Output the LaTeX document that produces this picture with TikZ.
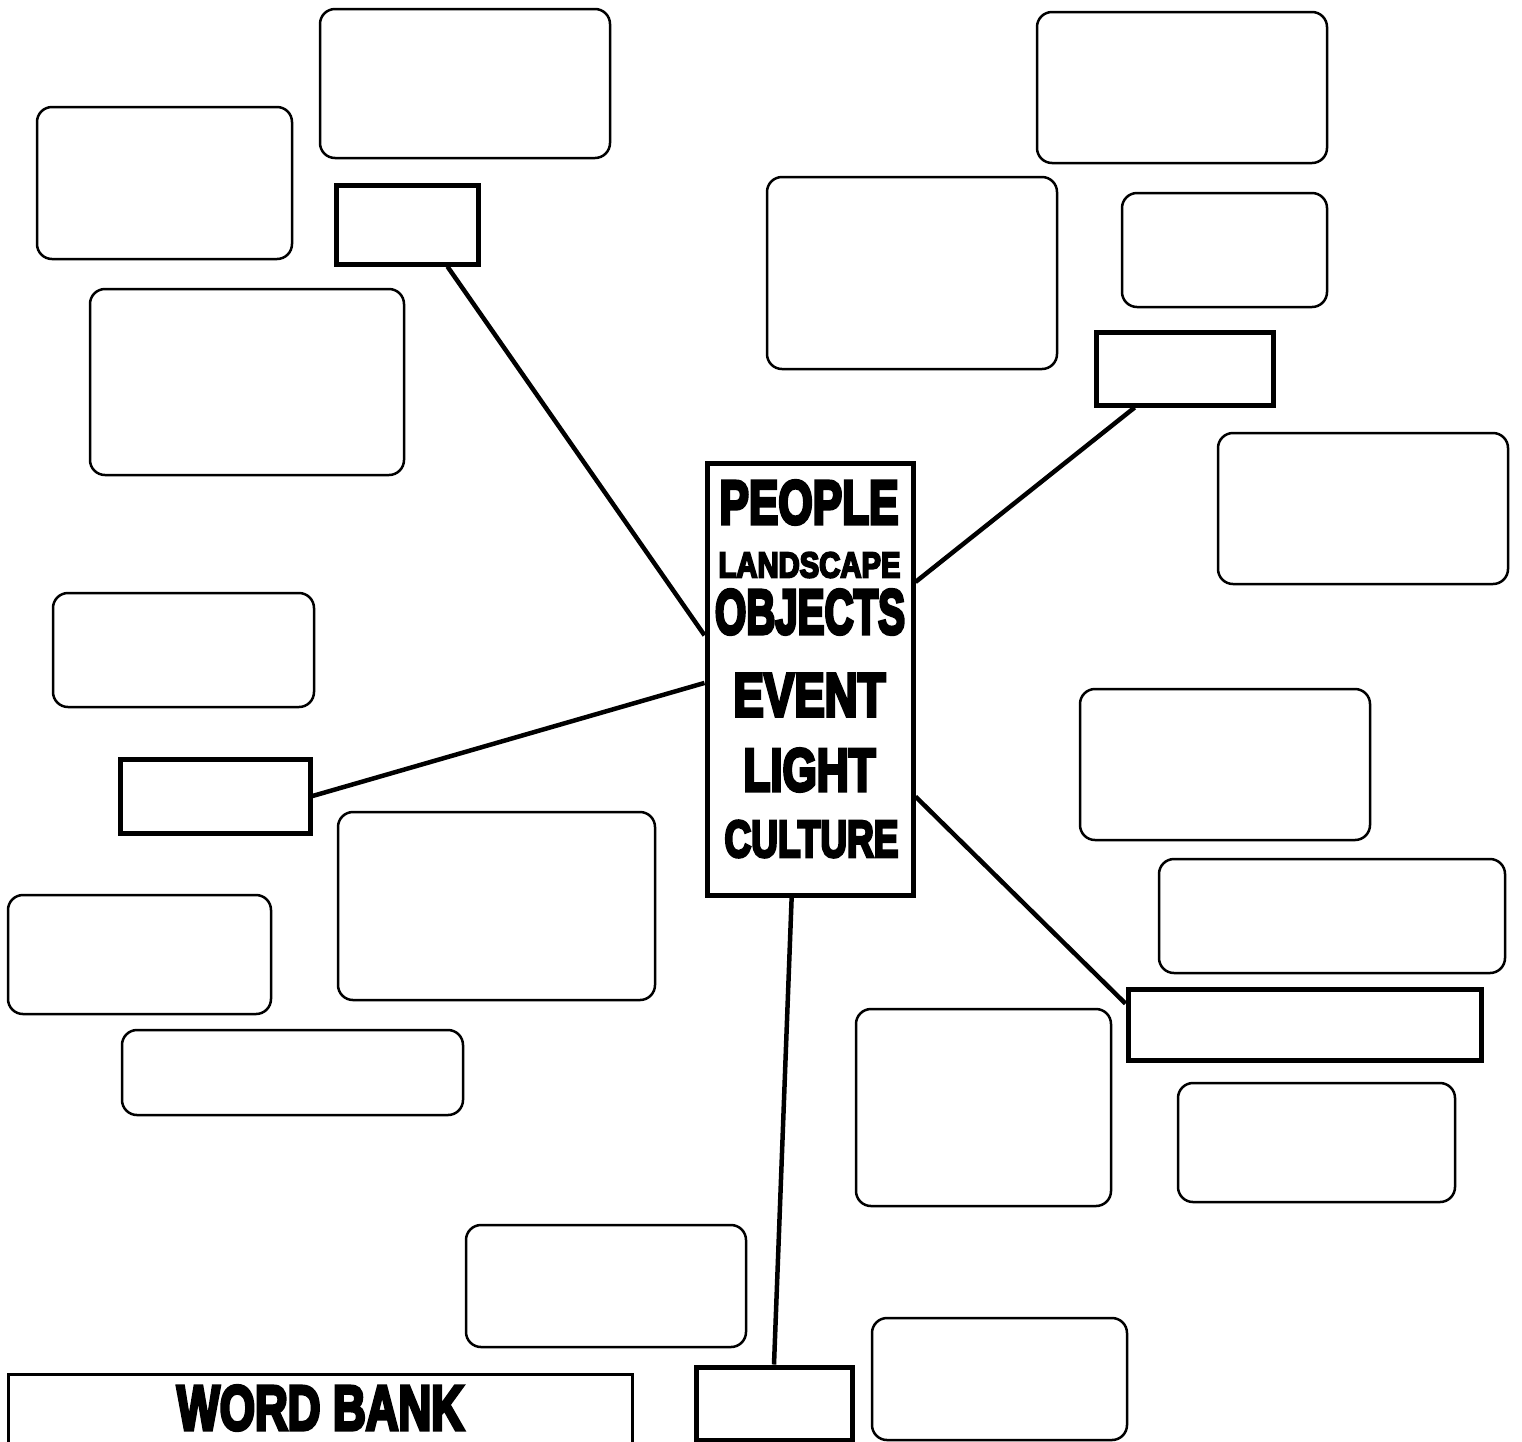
\documentclass[tikz,border=0pt]{standalone}
\usepackage{fontspec}
\setmainfont{Liberation Sans}[BoldFeatures={FakeBold=6}]
\usetikzlibrary{fit,calc}
\newcommand{\fitword}[3]{\resizebox{#1pt}{#2pt}{\bfseries #3}}
\tikzset{
  thinbox/.style={draw=black, line width=2.5pt, rounded corners=15pt, inner sep=0pt, fill=white},
  thickbox/.style={draw=black, line width=5pt, inner sep=0pt, fill=white},
  conn/.style={draw=black, line width=4.5pt},
  word/.style={inner sep=0pt, anchor=center}
}
\begin{document}
\begin{tikzpicture}[x=1pt,y=-1pt]
\useasboundingbox (0,0) rectangle (1522,1441);
\fill[white] (0,0) rectangle (1522,1441);
% thin rounded boxes
\node[thinbox, fit={(320,9) (610,158)}] (r1) {};
\node[thinbox, fit={(37,107) (292,259)}] (r2) {};
\node[thinbox, fit={(90,289) (404,475)}] (r3) {};
\node[thinbox, fit={(1037,12) (1327,163)}] (r4) {};
\node[thinbox, fit={(767,177) (1057,369)}] (r5) {};
\node[thinbox, fit={(1122,193) (1327,307)}] (r6) {};
\node[thinbox, fit={(1218,433) (1508,584)}] (r7) {};
\node[thinbox, fit={(53,593) (314,707)}] (r8) {};
\node[thinbox, fit={(338,812) (655,1000)}] (r9) {};
\node[thinbox, fit={(8,895) (271,1014)}] (r10) {};
\node[thinbox, fit={(122,1030) (463,1115)}] (r11) {};
\node[thinbox, fit={(1080,689) (1370,840)}] (r12) {};
\node[thinbox, fit={(1159,859) (1505,973)}] (r13) {};
\node[thinbox, fit={(856,1009) (1111,1206)}] (r14) {};
\node[thinbox, fit={(1178,1083) (1455,1202)}] (r15) {};
\node[thinbox, fit={(466,1225) (746,1347)}] (r16) {};
\node[thinbox, fit={(872,1318) (1127,1440)}] (r17) {};
% thick boxes
\node[thickbox, fit={(336,185) (478,264)}] (A) {};
\node[thickbox, fit={(1096,332) (1273,405)}] (B) {};
\node[thickbox, fit={(120,759) (310,833)}] (C) {};
\node[thickbox, fit={(1128,989) (1481,1060)}] (D) {};
\node[thickbox, fit={(696,1367) (852,1440)}] (E) {};
\node[thickbox, fit={(707,463) (913,895)}] (ctr) {};
% word bank
\node[draw=black, line width=3pt, inner sep=0pt, fit={(8,1374) (632,1470)}] (wb) {};
\node[word] (wbt) at (320.5,1408) {\fitword{287}{44}{WORD BANK}};
% center words
\node[word] (w1) at (809,502.5) {\fitword{179}{43}{PEOPLE}};
\node[word] (w2) at (809.5,565) {\fitword{182}{25}{LANDSCAPE}};
\node[word] (w3) at (810,612) {\fitword{190}{44}{OBJECTS}};
\node[word] (w4) at (809.5,695) {\fitword{152}{42}{EVENT}};
\node[word] (w5) at (809.5,770) {\fitword{132}{42}{LIGHT}};
\node[word] (w6) at (811.5,839) {\fitword{174}{36}{CULTURE}};
% connectors
\draw[conn] ($(A.south west)!0.775!(A.south east)$) -- ($(ctr.north west)!0.40!(ctr.south west)$);
\draw[conn] ($(B.south west)!0.226!(B.south east)$) -- ($(ctr.north east)!0.278!(ctr.south east)$);
\draw[conn] (C.east) -- ($(ctr.north west)!0.509!(ctr.south west)$);
\draw[conn] ($(ctr.north east)!0.769!(ctr.south east)$) -- ($(D.north west)!0.225!(D.south west)$);
\draw[conn] ($(ctr.south west)!0.413!(ctr.south east)$) -- (E.north);
\end{tikzpicture}
\end{document}
